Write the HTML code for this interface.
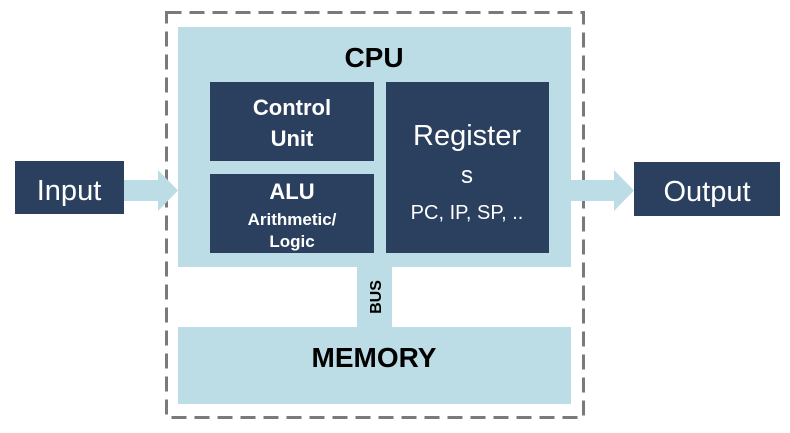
<!DOCTYPE html>
<html><head><style>
body{margin:0;background:#fff;width:790px;height:428px;overflow:hidden;font-family:"Liberation Sans",sans-serif}
</style></head><body>
<svg width="790" height="428" xmlns="http://www.w3.org/2000/svg" font-family="Liberation Sans, sans-serif">
<rect x="178" y="27" width="393" height="240" fill="#bcdce6"/>
<rect x="357" y="266" width="35" height="62" fill="#bcdce6"/>
<rect x="178" y="327" width="393" height="77" fill="#bcdce6"/>
<rect x="166.5" y="12.5" width="417" height="405" fill="none" stroke="#7a7a7a" stroke-width="3" stroke-dasharray="15 8"/>
<rect x="210" y="82" width="164" height="79" fill="#2b3f5e"/>
<rect x="210" y="174" width="164" height="79" fill="#2b3f5e"/>
<rect x="386" y="82" width="163" height="171" fill="#2b3f5e"/>
<rect x="15" y="161" width="109" height="53" fill="#2b3f5e"/>
<rect x="634" y="162" width="146" height="54" fill="#2b3f5e"/>
<polygon points="124,180 158,180 158,170 178,190.5 158,211 158,201 124,201" fill="#bcdce6"/>
<polygon points="571,180 614,180 614,170 634,190.5 614,211 614,201 571,201" fill="#bcdce6"/>
<g fill="#fff" text-anchor="middle">
<text x="69" y="200" font-size="29">Input</text>
<text x="707" y="201" font-size="29">Output</text>
<text x="292" y="115" font-size="22" font-weight="bold">Control</text>
<text x="292" y="146" font-size="22" font-weight="bold">Unit</text>
<text x="292" y="199" font-size="22" font-weight="bold">ALU</text>
<text x="292" y="225" font-size="17" font-weight="bold">Arithmetic/</text>
<text x="292" y="247" font-size="17" font-weight="bold">Logic</text>
<text x="467" y="145" font-size="29">Register</text>
<text x="467" y="183" font-size="24">s</text>
<text x="467" y="219" font-size="20">PC, IP, SP, ..</text>
</g>
<g fill="#000" text-anchor="middle" font-weight="bold">
<text x="374" y="67" font-size="28">CPU</text>
<text x="374" y="367" font-size="28">MEMORY</text>
<text x="0" y="0" font-size="16" transform="translate(381,297) rotate(-90)">BUS</text>
</g>
</svg>
</body></html>
